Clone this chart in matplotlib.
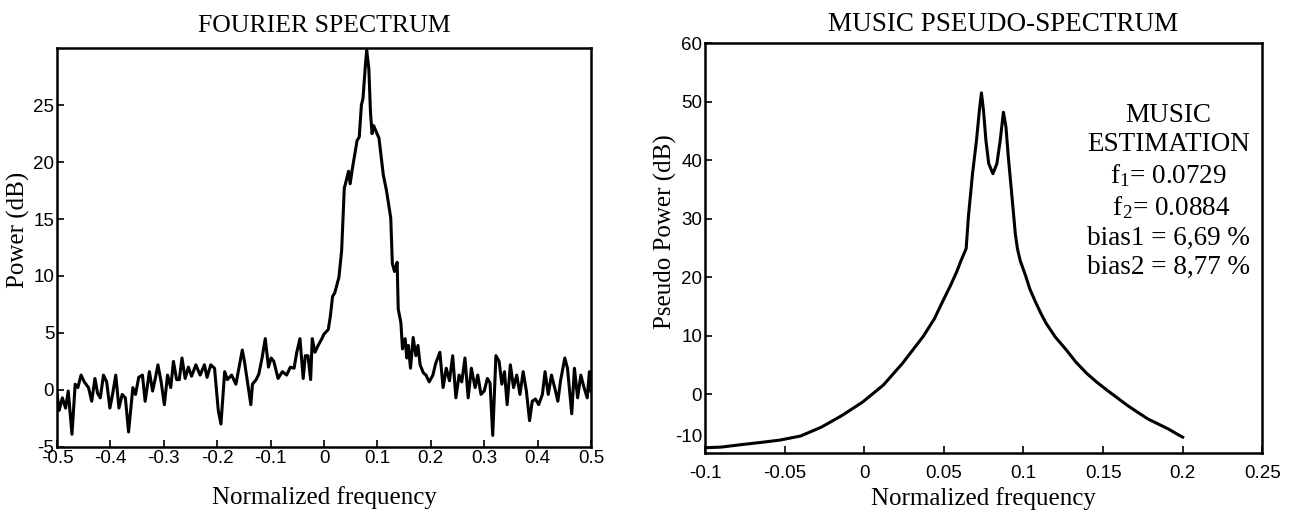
import matplotlib
matplotlib.use("Agg")
import matplotlib.pyplot as plt

plt.rcParams["axes.unicode_minus"] = False

SERIF = ["Liberation Serif", "DejaVu Serif"]
SANS = ["Liberation Sans", "DejaVu Sans"]

# --- Fourier spectrum ---
fourier_freq = [
    -0.500, -0.496, -0.490, -0.484, -0.479, -0.472, -0.466, -0.461, -0.455, -0.449,
    -0.441, -0.435, -0.429, -0.424, -0.419, -0.413, -0.407, -0.401, -0.396, -0.390,
    -0.384, -0.378, -0.372, -0.366, -0.358, -0.353, -0.347, -0.340, -0.335, -0.327,
    -0.321, -0.316, -0.311, -0.305, -0.299, -0.293, -0.287, -0.282, -0.276, -0.271,
    -0.266, -0.260, -0.254, -0.248, -0.240, -0.232, -0.224, -0.219, -0.212, -0.205,
    -0.198, -0.193, -0.186, -0.181, -0.173, -0.165, -0.159, -0.153, -0.149, -0.143,
    -0.137, -0.134, -0.127, -0.122, -0.116, -0.110, -0.104, -0.099, -0.094, -0.086,
    -0.078, -0.070, -0.063, -0.056, -0.051, -0.045, -0.039, -0.035, -0.030, -0.025,
    -0.022, -0.017, -0.011, -0.004, 0.000, 0.008, 0.012, 0.016, 0.020, 0.028,
    0.033, 0.038, 0.046, 0.049, 0.053, 0.062, 0.066, 0.070, 0.073, 0.078,
    0.080, 0.084, 0.087, 0.090, 0.093, 0.103, 0.111, 0.117, 0.125, 0.128,
    0.132, 0.137, 0.139, 0.144, 0.147, 0.152, 0.155, 0.158, 0.162, 0.167,
    0.172, 0.176, 0.180, 0.186, 0.191, 0.197, 0.204, 0.209, 0.217, 0.223,
    0.229, 0.235, 0.241, 0.247, 0.253, 0.258, 0.264, 0.270, 0.276, 0.283,
    0.288, 0.294, 0.300, 0.306, 0.311, 0.316, 0.322, 0.328, 0.333, 0.338,
    0.343, 0.349, 0.355, 0.361, 0.367, 0.373, 0.379, 0.385, 0.390, 0.396,
    0.402, 0.409, 0.414, 0.420, 0.426, 0.432, 0.438, 0.443, 0.451, 0.456,
    0.464, 0.469, 0.475, 0.481, 0.487, 0.493, 0.497, 0.500,
]
fourier_power = [
    -0.4, -1.8, -0.7, -1.6, -0.1, -3.9, 0.5, 0.2, 1.3, 0.7,
    0.2, -1.0, 1.0, -0.3, -0.7, 1.3, 0.7, -1.6, -0.4, 1.3,
    -1.6, -0.4, -0.7, -3.7, 0.2, -0.4, 1.1, 1.3, -1.0, 1.6,
    -0.1, 1.0, 2.2, 0.7, -1.3, 1.3, 0.2, 2.5, 0.9, 0.9,
    2.8, 1.0, 2.0, 1.2, 2.2, 1.3, 2.2, 1.1, 2.2, 1.9,
    -1.8, -3.0, 1.6, 0.9, 1.3, 0.5, 2.0, 3.5, 2.5, 0.6,
    -1.3, 0.5, 0.9, 1.4, 2.8, 4.5, 2.0, 2.8, 2.5, 1.0,
    1.6, 1.3, 2.0, 1.9, 3.3, 4.5, 1.0, 3.0, 3.0, 0.9,
    4.5, 3.3, 3.9, 4.5, 4.9, 5.3, 6.5, 8.2, 8.5, 9.9,
    12.2, 17.7, 19.2, 18.1, 19.4, 21.9, 22.2, 25.0, 25.6, 28.8,
    29.8, 28.2, 24.4, 22.5, 23.2, 22.1, 18.9, 17.5, 15.1, 11.1,
    10.4, 11.2, 7.1, 5.9, 3.6, 4.5, 2.8, 3.9, 1.9, 4.6,
    3.0, 3.9, 2.2, 1.5, 1.3, 0.7, 1.3, 2.3, 3.3, 0.2,
    1.9, 0.8, 3.0, -0.7, 1.3, 0.7, 2.8, -0.7, 1.9, 0.2,
    1.3, -0.4, -0.1, 1.0, 0.6, -4.0, 3.0, 2.5, 0.5, 1.6,
    -1.3, 2.2, 0.2, 1.3, -0.4, 1.6, -0.1, -2.7, -1.0, -0.8,
    -1.3, -0.4, 1.6, -0.4, 1.3, 0.2, -1.0, 0.8, 2.8, 1.9,
    -2.1, 1.9, -0.7, 1.3, 0.2, -0.7, 1.6, -0.1,
]

# --- MUSIC pseudo-spectrum ---
music_freq = [
    -0.100, -0.090, -0.078, -0.065, -0.053, -0.040, -0.027, -0.014, -0.001, 0.012,
    0.024, 0.037, 0.044, 0.050, 0.054, 0.058, 0.061, 0.064, 0.0654, 0.068,
    0.0705, 0.0723, 0.0736, 0.0749, 0.0764, 0.0782, 0.0808, 0.0833, 0.0854, 0.0874,
    0.089, 0.0905, 0.0926, 0.0949, 0.0962, 0.098, 0.1013, 0.104, 0.1077, 0.111,
    0.1141, 0.120, 0.1269, 0.133, 0.1397, 0.146, 0.1526, 0.159, 0.1654, 0.172,
    0.1782, 0.185, 0.191, 0.196, 0.200,
]
music_power = [
    -9.1, -9.0, -8.6, -8.2, -7.8, -7.1, -5.6, -3.6, -1.3, 1.6,
    5.3, 9.9, 12.9, 16.3, 18.5, 20.9, 23.0, 24.9, 30.3, 37.7,
    43.4, 48.5, 51.5, 48.5, 43.4, 39.4, 37.7, 39.4, 43.4, 48.2,
    45.7, 40.5, 34.3, 27.4, 24.9, 22.8, 20.3, 18.0, 15.7, 13.8,
    12.2, 9.8, 7.6, 5.5, 3.6, 2.1, 0.7, -0.6, -1.9, -3.1,
    -4.2, -5.1, -5.9, -6.7, -7.3,
]

left_xticks = [-0.5, -0.4, -0.3, -0.2, -0.1, 0, 0.1, 0.2, 0.3, 0.4, 0.5]
left_xlabels = ["-0.5", "-0.4", "-0.3", "-0.2", "-0.1", "0", "0.1", "0.2", "0.3", "0.4", "0.5"]
left_yticks = [-5, 0, 5, 10, 15, 20, 25]
right_xticks = [-0.1, -0.05, 0, 0.05, 0.1, 0.15, 0.2, 0.25]
right_xlabels = ["-0.1", "-0.05", "0", "0.05", "0.1", "0.15", "0.2", "0.25"]
right_yticks = [0, 10, 20, 30, 40, 50, 60]

estimation_lines = [
    "MUSIC",
    "ESTIMATION",
    "f$_1$= 0.0729",
    " f$_2$= 0.0884",
    "bias1 = 6,69 %",
    "bias2 = 8,77 %",
]

plt.rcParams["mathtext.fontset"] = "custom"
plt.rcParams["mathtext.rm"] = "Liberation Serif"
plt.rcParams["mathtext.it"] = "Liberation Serif"

fig = plt.figure(figsize=(12.96, 5.13), dpi=100)
ax1 = fig.add_axes([0.044, 0.129, 0.412, 0.777])
ax2 = fig.add_axes([0.544, 0.117, 0.430, 0.799])


def _style(axis):
    for spine in axis.spines.values():
        spine.set_linewidth(1.8)
    axis.tick_params(direction="in", length=5, width=1.2, pad=2, labelsize=13.5)
    for label in axis.get_xticklabels() + axis.get_yticklabels():
        label.set_family(SANS)


ax1.plot(fourier_freq, fourier_power, color="black", lw=2.2)
ax1.set_xlim(-0.5, 0.5)
ax1.set_ylim(-5, 30)
ax1.set_xticks(left_xticks)
ax1.set_xticklabels(left_xlabels)
ax1.set_yticks(left_yticks)
_style(ax1)
ax1.set_title("FOURIER SPECTRUM", family=SERIF, fontsize=18.5, pad=12)
ax1.set_xlabel("Normalized frequency", family=SERIF, fontsize=18, labelpad=14)
ax1.set_ylabel("Power (dB)", family=SERIF, fontsize=18)
ax1.yaxis.set_label_coords(-0.05, 0.544)

ax2.plot(music_freq, music_power, color="black", lw=2.2)
ax2.set_xlim(-0.1, 0.25)
ax2.set_ylim(-10, 60)
ax2.set_xticks(right_xticks)
ax2.set_xticklabels(right_xlabels)
ax2.set_yticks(right_yticks)
_style(ax2)
ax2.tick_params(axis="x", pad=9)
ax2.text(-0.004, music_power[-1], "-10", transform=ax2.get_yaxis_transform(),
         ha="right", va="center", fontsize=13.5, family=SANS)
ax2.set_title("MUSIC PSEUDO-SPECTRUM", family=SERIF, fontsize=19.5, pad=9, x=0.535)
ax2.set_xlabel("Normalized frequency", family=SERIF, fontsize=18, labelpad=3)
ax2.set_ylabel("Pseudo Power (dB)", family=SERIF, fontsize=18)
ax2.yaxis.set_label_coords(-0.05, 0.541)

ax2.text(0.832, 0.638, "\n".join(estimation_lines), transform=ax2.transAxes,
         ha="center", va="center", fontsize=19.5, family=SERIF, linespacing=1.24)

fig.savefig("out.png", dpi=100)
